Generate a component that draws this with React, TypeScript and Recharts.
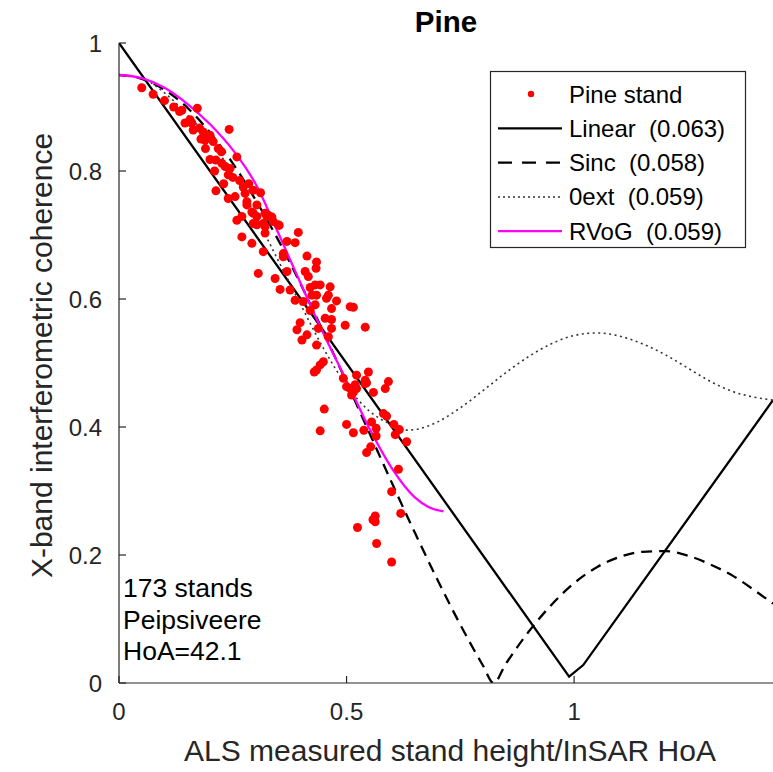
import { ComposedChart, Line, Scatter, XAxis, YAxis } from "recharts";

const FONT = '"Liberation Sans", Arial, Helvetica, sans-serif';
const INK = "#262626";

const xTicks = [0, 0.5, 1];
const yTicks = [0, 0.2, 0.4, 0.6, 0.8, 1];

// stand height / HoA , coherence
const pineStands: [number, number][] = [
  [0.05, 0.93], [0.075, 0.92], [0.1, 0.91], [0.12, 0.9], [0.133, 0.893], [0.138, 0.895],
  [0.145, 0.875], [0.156, 0.88], [0.16, 0.875], [0.163, 0.864], [0.172, 0.898], [0.177, 0.867],
  [0.18, 0.85], [0.185, 0.861], [0.189, 0.848], [0.19, 0.835], [0.2, 0.856], [0.207, 0.846],
  [0.242, 0.865], [0.218, 0.835], [0.225, 0.83], [0.2, 0.818], [0.213, 0.817], [0.21, 0.8],
  [0.226, 0.812], [0.233, 0.807], [0.24, 0.794], [0.259, 0.822], [0.244, 0.804], [0.23, 0.78],
  [0.25, 0.79], [0.265, 0.785], [0.285, 0.78], [0.213, 0.769], [0.24, 0.757], [0.255, 0.76],
  [0.273, 0.775], [0.277, 0.765], [0.281, 0.752], [0.295, 0.77], [0.311, 0.766], [0.292, 0.736],
  [0.303, 0.729], [0.325, 0.729], [0.336, 0.728], [0.259, 0.723], [0.303, 0.716], [0.321, 0.713],
  [0.352, 0.715], [0.27, 0.697],
  [0.281, 0.747], [0.303, 0.747], [0.295, 0.734], [0.321, 0.734], [0.328, 0.731], [0.27, 0.729],
  [0.295, 0.718], [0.317, 0.718], [0.339, 0.721], [0.35, 0.716], [0.321, 0.703], [0.394, 0.704],
  [0.292, 0.687], [0.369, 0.69], [0.387, 0.688], [0.317, 0.674], [0.361, 0.671], [0.361, 0.666],
  [0.413, 0.667], [0.434, 0.658], [0.433, 0.648], [0.306, 0.64], [0.369, 0.643], [0.409, 0.643],
  [0.416, 0.635], [0.343, 0.632], [0.354, 0.615], [0.376, 0.614], [0.42, 0.618], [0.431, 0.622],
  [0.442, 0.622], [0.464, 0.619], [0.424, 0.606], [0.434, 0.606], [0.46, 0.606], [0.456, 0.601],
  [0.387, 0.598], [0.405, 0.596], [0.478, 0.597], [0.431, 0.591], [0.467, 0.585], [0.508, 0.588],
  [0.515, 0.587], [0.42, 0.582], [0.453, 0.57], [0.467, 0.568], [0.398, 0.563], [0.497, 0.559],
  [0.541, 0.556], [0.467, 0.554], [0.391, 0.552], [0.438, 0.554], [0.413, 0.544], [0.402, 0.536],
  [0.46, 0.541], [0.434, 0.528], [0.449, 0.502], [0.442, 0.497], [0.434, 0.489], [0.429, 0.486],
  [0.493, 0.476], [0.522, 0.481], [0.548, 0.486], [0.541, 0.473], [0.544, 0.469], [0.5, 0.463],
  [0.519, 0.466], [0.592, 0.471], [0.585, 0.46], [0.559, 0.454], [0.515, 0.454],
  [0.541, 0.468], [0.508, 0.46], [0.522, 0.46], [0.511, 0.45], [0.451, 0.428], [0.5, 0.404],
  [0.442, 0.394], [0.515, 0.391], [0.538, 0.395], [0.555, 0.408], [0.581, 0.421], [0.588, 0.417],
  [0.604, 0.404], [0.616, 0.396], [0.565, 0.398], [0.565, 0.386], [0.607, 0.388], [0.632, 0.377],
  [0.553, 0.369], [0.544, 0.36], [0.614, 0.334], [0.599, 0.299], [0.619, 0.265], [0.563, 0.261],
  [0.558, 0.255], [0.563, 0.252], [0.524, 0.243], [0.566, 0.218], [0.599, 0.189],
];

const linearModel: [number, number][] = [
  [0, 1], [0.989, 0.01], [1.02, 0.028], [1.437, 0.442],
];

const sincModel: [number, number][] = [
  [0, 0.95], [0.05, 0.944], [0.1, 0.927], [0.15, 0.899], [0.2, 0.86], [0.25, 0.812],
  [0.3, 0.755], [0.35, 0.692], [0.4, 0.622], [0.45, 0.547], [0.5, 0.47], [0.55, 0.391],
  [0.6, 0.312], [0.65, 0.235], [0.7, 0.161], [0.75, 0.091], [0.8, 0.027], [0.823, 0],
  [0.85, 0.03], [0.9, 0.08], [0.95, 0.122], [1.0, 0.156], [1.05, 0.181], [1.1, 0.197],
  [1.15, 0.205], [1.2, 0.206], [1.25, 0.199], [1.3, 0.185], [1.35, 0.167], [1.4, 0.143],
  [1.437, 0.124],
];

const zeroExtModel: [number, number][] = [
  [0, 0.95], [0.05, 0.945], [0.1, 0.922], [0.15, 0.888], [0.2, 0.848], [0.25, 0.795],
  [0.3, 0.73], [0.35, 0.66], [0.4, 0.59], [0.45, 0.522], [0.5, 0.465], [0.55, 0.425],
  [0.6, 0.403], [0.625, 0.395], [0.65, 0.396], [0.7, 0.408], [0.75, 0.43], [0.8, 0.457],
  [0.85, 0.485], [0.9, 0.51], [0.95, 0.53], [1.0, 0.543], [1.05, 0.547], [1.1, 0.542],
  [1.15, 0.53], [1.2, 0.513], [1.25, 0.492], [1.3, 0.471], [1.35, 0.455], [1.4, 0.446],
  [1.437, 0.442],
];

const rvogModel: [number, number][] = [
  [0, 0.95], [0.05, 0.945], [0.1, 0.93], [0.15, 0.905], [0.2, 0.873], [0.25, 0.833],
  [0.3, 0.78], [0.35, 0.703], [0.4, 0.623], [0.45, 0.545], [0.5, 0.472], [0.55, 0.398],
  [0.6, 0.335], [0.65, 0.29], [0.68, 0.275], [0.713, 0.268],
];

const legendItems = [
  { label: "Pine stand", kind: "dot" },
  { label: "Linear  (0.063)", kind: "solid" },
  { label: "Sinc  (0.058)", kind: "dash" },
  { label: "0ext  (0.059)", kind: "dot-line" },
  { label: "RVoG  (0.059)", kind: "magenta" },
];

const infoLines = ["173 stands", "Peipsiveere", "HoA=42.1"];

const pts = (a: [number, number][]) => a.map(([x, y]) => ({ x, y }));

const tickStyle = { fontSize: 24, fill: INK, fontFamily: FONT };

const LegendBox = () => (
  <g>
    <rect x={490.5} y={71.5} width={255} height={176} fill="#fff" stroke={INK} strokeWidth={1.2} />
    {legendItems.map((it, i) => {
      const cy = 94 + i * 34.3;
      return (
        <g key={it.label}>
          {it.kind === "dot" && <circle cx={531} cy={cy} r={3.2} fill="#ff0000" />}
          {it.kind === "solid" && <line x1={498} x2={562} y1={cy} y2={cy} stroke="#000" strokeWidth={2.3} />}
          {it.kind === "dash" && (
            <line x1={498} x2={562} y1={cy} y2={cy} stroke="#000" strokeWidth={2.3} strokeDasharray="14 10" />
          )}
          {it.kind === "dot-line" && (
            <line x1={498} x2={562} y1={cy} y2={cy} stroke="#333" strokeWidth={1.5} strokeDasharray="2 3" />
          )}
          {it.kind === "magenta" && <line x1={498} x2={562} y1={cy} y2={cy} stroke="#ff00ff" strokeWidth={2.3} />}
          <text x={569} y={cy + 8.5} fontSize={24} fill="#000" fontFamily={FONT} style={{ whiteSpace: "pre" }}>
            {it.label}
          </text>
        </g>
      );
    })}
  </g>
);

export default function App() {
  return (
    <div style={{ position: "absolute", left: 0, top: 0, width: 773, height: 772, background: "#fff", overflow: "hidden" }}>
      <ComposedChart width={773} height={772} margin={{ top: 43, right: 0, bottom: 0, left: 0 }}>
        <XAxis
          type="number"
          dataKey="x"
          domain={[0, 1.437]}
          allowDataOverflow
          ticks={xTicks}
          height={89}
          tickSize={-7}
          tickMargin={27}
          tick={tickStyle}
          stroke={INK}
          axisLine={{ stroke: INK, strokeWidth: 1.2 }}
          tickLine={{ stroke: INK, strokeWidth: 1.2 }}
        />
        <YAxis
          type="number"
          domain={[0, 1]}
          allowDataOverflow
          ticks={yTicks}
          width={119}
          tickSize={-7}
          tickMargin={24}
          tick={tickStyle}
          stroke={INK}
          axisLine={{ stroke: INK, strokeWidth: 1.2 }}
          tickLine={{ stroke: INK, strokeWidth: 1.2 }}
        />
        <Scatter
          data={pts(pineStands)}
          dataKey="y"
          fill="#ff0000"
          isAnimationActive={false}
          shape={(p: any) => <circle cx={p.cx} cy={p.cy} r={4.5} fill="#ff0000" />}
        />
        <Line data={pts(linearModel)} dataKey="y" type="linear" stroke="#000" strokeWidth={2.3} dot={false} isAnimationActive={false} />
        <Line data={pts(sincModel)} dataKey="y" type="monotone" stroke="#000" strokeWidth={2.3} strokeDasharray="11 7" dot={false} isAnimationActive={false} />
        <Line data={pts(zeroExtModel)} dataKey="y" type="monotone" stroke="#333" strokeWidth={1.6} strokeDasharray="2 3.5" dot={false} isAnimationActive={false} />
        <Line data={pts(rvogModel)} dataKey="y" type="monotone" stroke="#ff00ff" strokeWidth={2.3} dot={false} isAnimationActive={false} />
      </ComposedChart>
      <svg width={773} height={772} style={{ position: "absolute", left: 0, top: 0, pointerEvents: "none" }}>
        <text x={446} y={32} textAnchor="middle" fontSize={29.5} fontWeight="bold" fill="#000" fontFamily={FONT}>
          Pine
        </text>
        <text x={450} y={761} textAnchor="middle" fontSize={30} fill={INK} fontFamily={FONT}>
          ALS measured stand height/InSAR HoA
        </text>
        <text x={52} y={355.5} textAnchor="middle" fontSize={30} fill={INK} fontFamily={FONT} transform="rotate(-90 52 355.5)">
          X-band interferometric coherence
        </text>
        {infoLines.map((t, i) => (
          <text key={t} x={123} y={597 + i * 31.5} fontSize={26.5} fill="#000" fontFamily={FONT}>
            {t}
          </text>
        ))}
        <LegendBox />
      </svg>
    </div>
  );
}
